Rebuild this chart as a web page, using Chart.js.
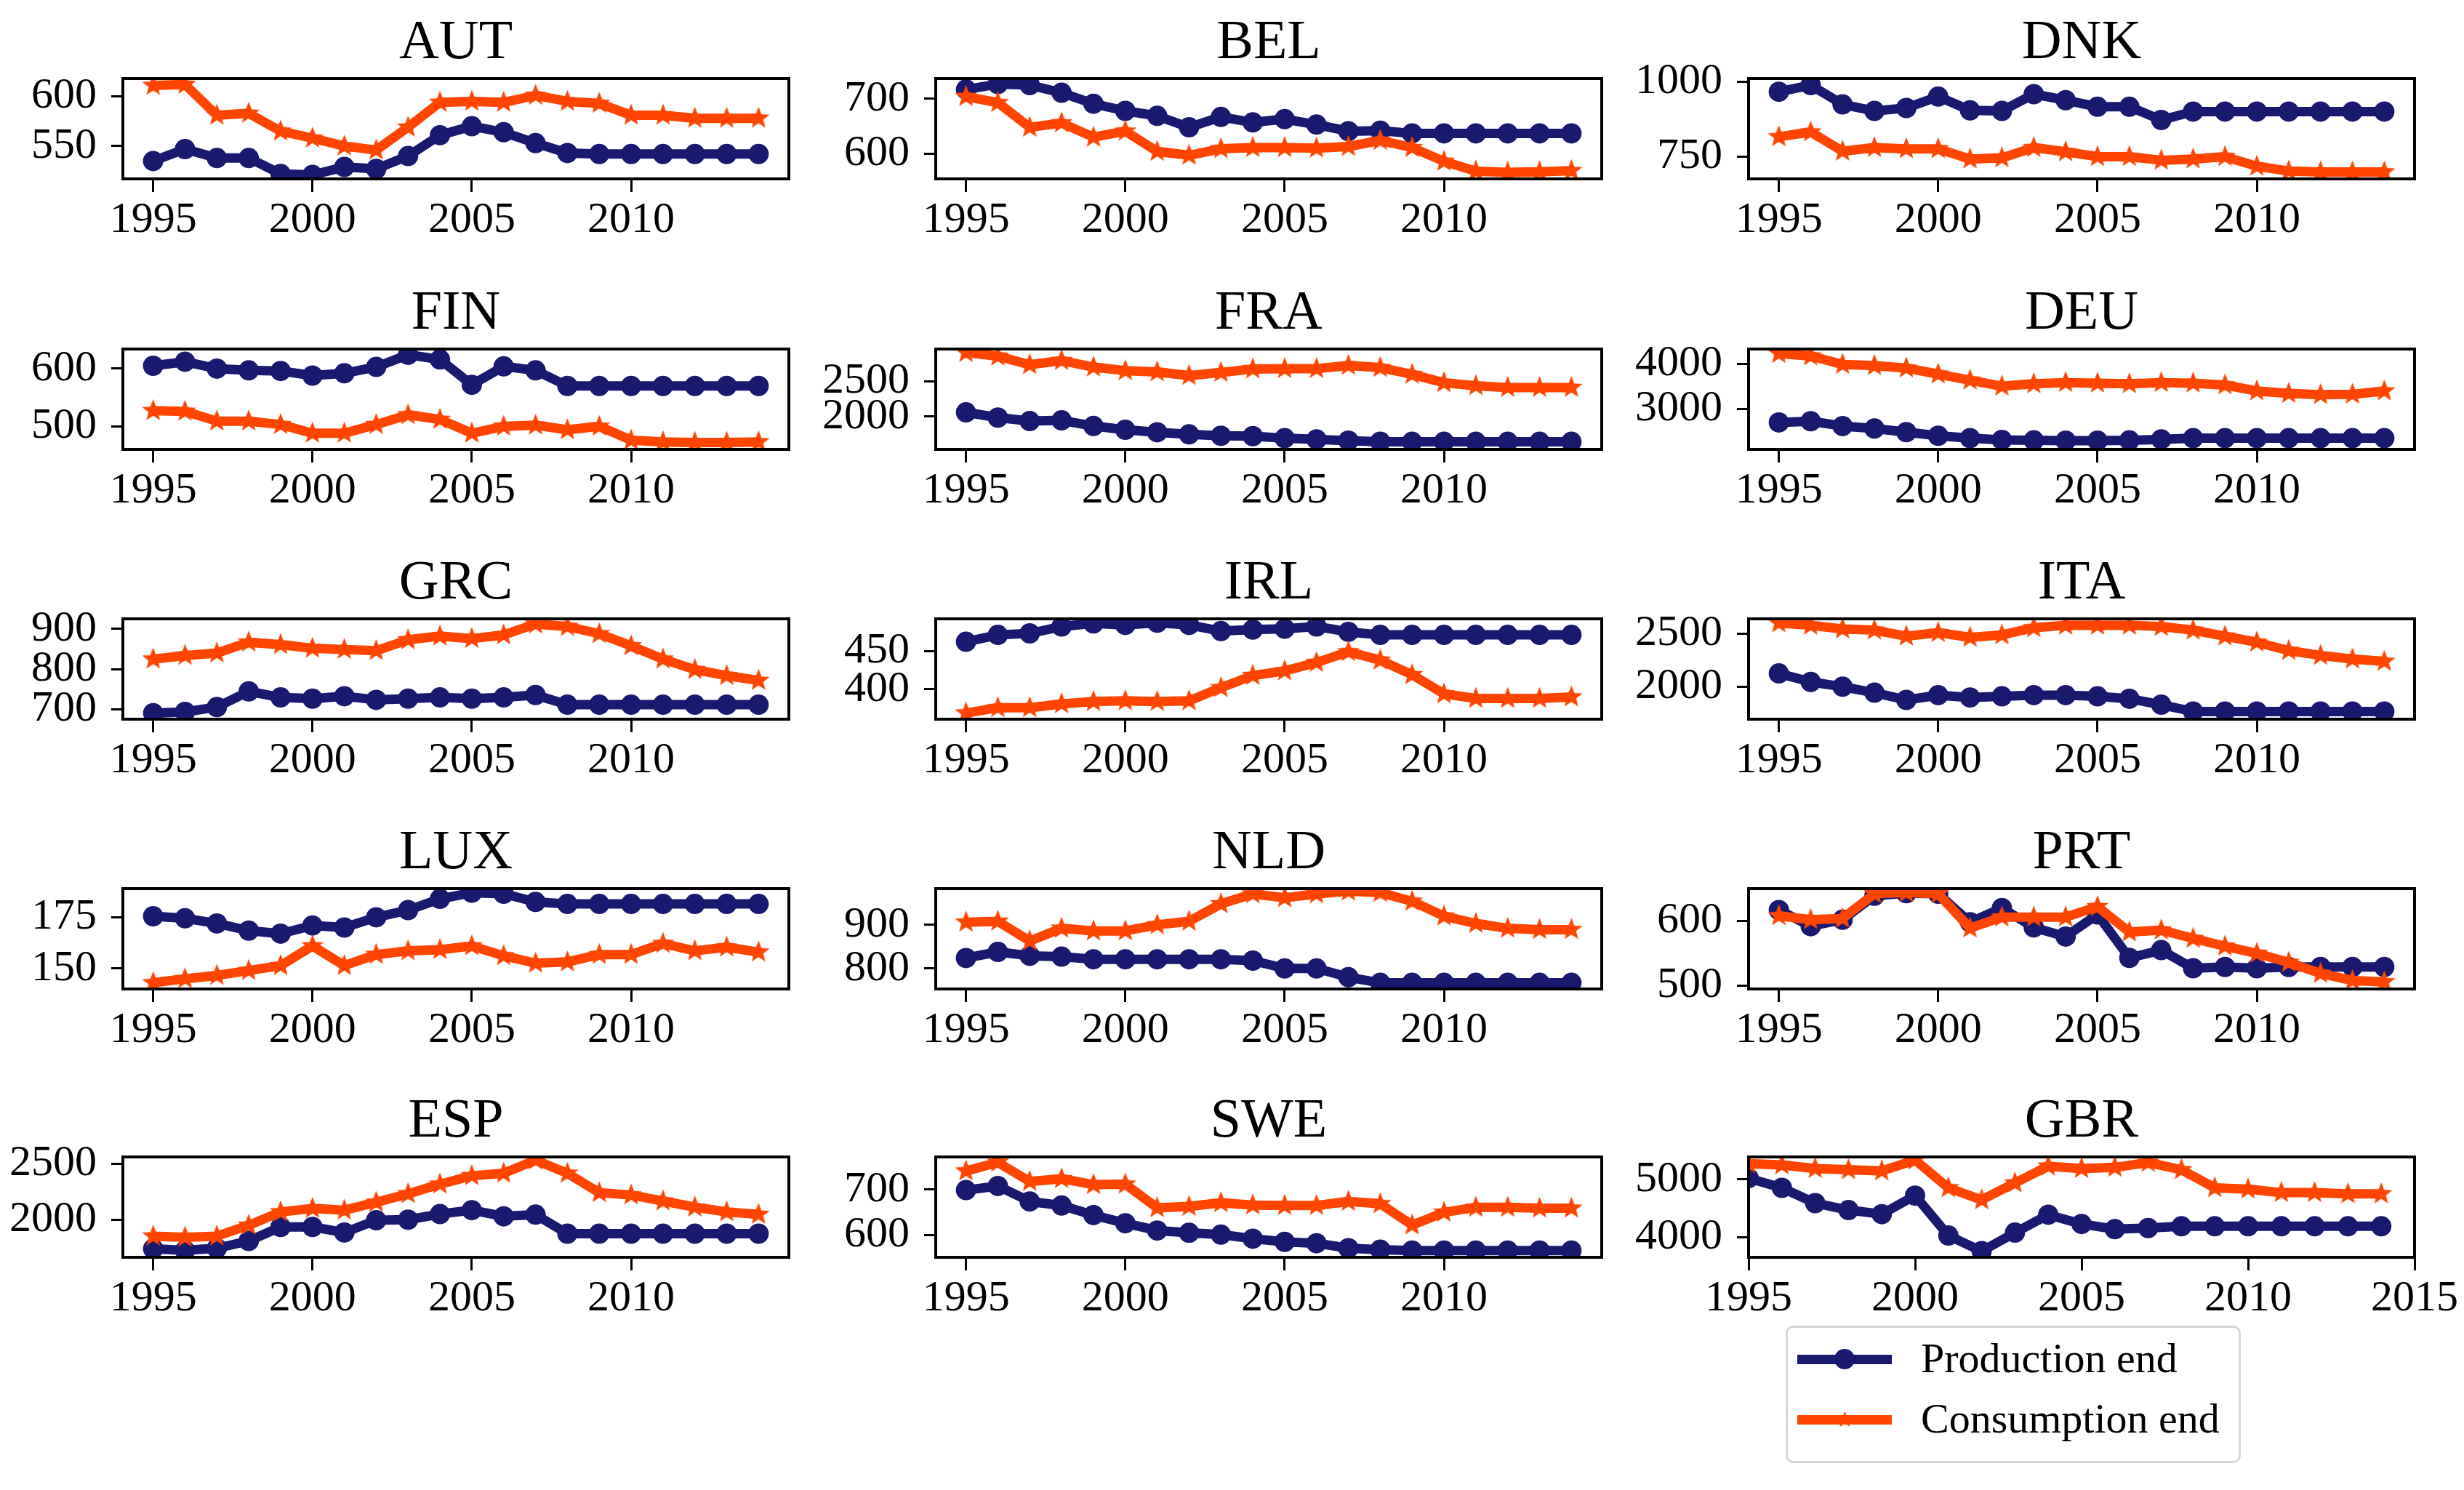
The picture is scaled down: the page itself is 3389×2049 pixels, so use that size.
<!DOCTYPE html>
<html>
<head>
<meta charset="utf-8">
<script src="https://cdn.jsdelivr.net/npm/chart.js@4.4.0/dist/chart.umd.min.js"></script>
<style>
body{margin:0;background:#fff}
#page{position:relative;width:3389px;height:2049px;overflow:hidden;background:#fff}
.panel{position:absolute}
#legend{position:absolute;left:2456px;top:1823px;width:620px;height:183px;border:3px solid #d6d6d6;border-radius:10px;background:#fff;font-family:"Liberation Serif",serif;font-size:58px;color:#000}
.item{position:absolute;left:13px;height:80px;width:600px}
.sample{position:absolute;left:0;top:33px;width:130px;height:13px}
.dot{position:absolute;left:51px;top:25px;width:28px;height:28px;border-radius:50%;background:#191970}
.star{position:absolute;left:52px;top:15px;font-size:30px;color:#ff4500;line-height:48px}
.label{position:absolute;left:170px;top:2px;line-height:72px}
</style>
</head>
<body>
<div id="page">
<div id="legend">
<div class="item" style="top:4px"><div class="sample" style="background:#191970"></div><div class="dot"></div><div class="label">Production end</div></div>
<div class="item" style="top:87px"><div class="sample" style="background:#ff4500"></div><div class="star">★</div><div class="label">Consumption end</div></div>
</div>
</div>
<script>
const years = [1995,1996,1997,1998,1999,2000,2001,2002,2003,2004,2005,2006,2007,2008,2009,2010,2011,2012,2013,2014]

// Production end / Consumption end per country

const prodAUT = [535,547,538,538,522,521,529,527,540,561,570,564,553,543,542,542,542,542,542,542]
const consAUT = [611,612,581,583,565,558,550,546,569,594,595,594,601,595,593,581,581,578,578,578]

const prodBEL = [717,727,725,711,691,678,669,648,667,657,663,653,641,642,637,637,637,637,637,637]
const consBEL = [704,693,648,656,630,641,604,597,609,611,611,610,613,624,611,586,568,566,567,569]

const prodDNK = [966,988,924,902,912,950,904,902,958,938,916,916,872,900,900,900,900,900,900,900]
const consDNK = [816,832,768,780,776,776,742,746,780,766,750,750,738,742,750,718,702,699,699,699]

const prodFIN = [605,612,600,597,596,588,592,603,624,616,572,604,597,570,570,570,570,570,570,570]
const consFIN = [527,526,509,509,503,488,488,503,520,512,488,500,502,494,500,476,473,472,472,473]

const prodFRA = [2060,1985,1935,1945,1865,1810,1775,1745,1725,1720,1690,1672,1655,1640,1638,1638,1638,1638,1638,1638]
const consFRA = [2914,2862,2741,2800,2707,2655,2638,2586,2630,2680,2685,2685,2730,2700,2603,2483,2440,2415,2415,2415]

const prodDEU = [2706,2733,2626,2572,2492,2412,2358,2320,2310,2305,2305,2310,2332,2358,2358,2358,2358,2358,2358,2358]
const consDEU = [4230,4176,3989,3963,3909,3775,3642,3508,3561,3588,3575,3561,3588,3575,3535,3401,3348,3321,3330,3401]

const prodGRC = [691,694,706,745,730,727,733,724,727,730,727,730,736,712,712,712,712,712,712,712]
const consGRC = [825,834,840,867,861,852,849,846,873,882,876,885,912,906,888,858,825,799,784,772]

const prodIRL = [462,471,473,482,486,484,487,484,476,478,479,482,475,471,471,471,471,471,471,471]
const consIRL = [369,376,376,381,384,385,384,385,402,418,424,435,449,438,419,394,388,388,388,390]

const prodITA = [2125,2045,2000,1943,1875,1920,1898,1909,1920,1920,1909,1886,1830,1765,1765,1765,1765,1765,1765,1765]
const consITA = [2602,2580,2545,2534,2477,2511,2466,2489,2557,2580,2580,2580,2568,2534,2477,2420,2341,2295,2261,2239]

const prodLUX = [175.5,174.5,172,168.5,167,171,170,175,178.5,184,187,186.5,182.5,181.5,181.5,181.5,181.5,181.5,181.5,181.5]
const consLUX = [143,145,146.6,149,151.4,161,151.4,156.8,158.6,159.2,161,156.2,152.6,153.2,156.8,156.8,162.2,158.6,160.4,158]

const prodNLD = [824,838,829,827,821,821,821,821,821,818,800,800,780,767,767,767,767,767,767,767]
const consNLD = [906,908,863,892,886,886,900,908,948,971,962,971,977,974,954,920,903,892,889,889]

const prodPRT = [617,592,602,639,643,642,598,620,590,576,610,543,555,527,529,527,529,529,529,529]
const consPRT = [608,602,604,642,644,642,589,606,606,606,622,583,586,573,561,550,536,519,508,506]

const prodESP = [1740,1725,1745,1810,1935,1935,1885,1995,2000,2050,2085,2030,2045,1875,1875,1875,1875,1875,1875,1875]
const consESP = [1853,1843,1853,1950,2069,2100,2085,2155,2231,2317,2392,2414,2532,2414,2241,2220,2166,2112,2069,2047]

const prodSWE = [699,708,674,665,644,626,610,605,601,592,585,582,571,568,566,566,566,566,566,566]
const consSWE = [741,760,718,724,711,712,660,663,671,666,665,665,674,669,622,650,661,661,659,659]

const prodGBR = [5021,4854,4590,4470,4400,4720,4030,3760,4080,4390,4230,4140,4160,4190,4190,4190,4190,4190,4190,4190]
const consGBR = [5271,5250,5188,5167,5146,5333,4854,4646,4938,5229,5188,5208,5292,5167,4854,4833,4771,4771,4750,4750]

// tick labels

const xTicks = [1995,2000,2005,2010]
const xTicksGBR = [1995,2000,2005,2010,2015]

const panels = [
{name:"AUT",prod:prodAUT,cons:consAUT,yTicks:[550,600],yMin:517,yMax:618},
{name:"BEL",prod:prodBEL,cons:consBEL,yTicks:[600,700],yMin:554,yMax:737},
{name:"DNK",prod:prodDNK,cons:consDNK,yTicks:[750,1000],yMin:676,yMax:1010},
{name:"FIN",prod:prodFIN,cons:consFIN,yTicks:[500,600],yMin:460,yMax:634},
{name:"FRA",prod:prodFRA,cons:consFRA,yTicks:[2000,2500],yMin:1530,yMax:2965},
{name:"DEU",prod:prodDEU,cons:consDEU,yTicks:[3000,4000],yMin:2110,yMax:4330},
{name:"GRC",prod:prodGRC,cons:consGRC,yTicks:[700,800,900],yMin:676,yMax:925},
{name:"IRL",prod:prodIRL,cons:consIRL,yTicks:[400,450],yMin:361,yMax:492},
{name:"ITA",prod:prodITA,cons:consITA,yTicks:[2000,2500],yMin:1693,yMax:2641},
{name:"LUX",prod:prodLUX,cons:consLUX,yTicks:[150,175],yMin:140,yMax:189},
{name:"NLD",prod:prodNLD,cons:consNLD,yTicks:[800,900],yMin:753,yMax:983},
{name:"PRT",prod:prodPRT,cons:consPRT,yTicks:[500,600],yMin:495,yMax:650},
{name:"ESP",prod:prodESP,cons:consESP,yTicks:[2000,2500],yMin:1664,yMax:2560},
{name:"SWE",prod:prodSWE,cons:consSWE,yTicks:[600,700],yMin:551,yMax:772},
{name:"GBR",prod:prodGBR,cons:consGBR,yTicks:[4000,5000],yMin:3654,yMax:5388}
]

// layout of the 5x3 grid (plot area positions)

const colLeft = [169,1287,2405]
const rowTop = [108,480,851,1222,1591]
const plotW = 916
const plotH = 138
const yAxisW = 160
const titleH = 108
const xAxisH = 100

const BLUE = "#191970"
const ORANGE = "#ff4500"
const FONT = "'Liberation Serif', 'Times New Roman', serif"

Chart.defaults.font.family = FONT
Chart.defaults.color = "#000"

// filled star marker like matplotlib "*"

function makeStar(r,color){
const c = document.createElement("canvas")
c.width = c.height = 2*r+2
const g = c.getContext("2d")
g.fillStyle = color
g.beginPath()
for(let i=0;i<10;i++){
const a = -Math.PI/2 + i*Math.PI/5
const rr = i%2 ? r*0.42 : r
g.lineTo(r+1+rr*Math.cos(a), r+1+rr*Math.sin(a))
}
g.closePath()
g.fill()
return c
}

const starImg = makeStar(16,ORANGE)

// box around each plot area

const framePlugin = {
id:"frame",
afterDatasetsDraw(chart){
const {ctx,chartArea:a} = chart
ctx.save()
ctx.strokeStyle = "#000"
ctx.lineWidth = 4
ctx.strokeRect(a.left,a.top,a.right-a.left,a.bottom-a.top)
ctx.restore()
}
}

// panel title centred over the plot area (like matplotlib set_title)

const panelTitle = {
id:"panelTitle",
afterDraw(chart,args,opts){
const {ctx,chartArea:a} = chart
ctx.save()
ctx.fillStyle = "#000"
ctx.font = "76px " + FONT
ctx.textAlign = "center"
ctx.textBaseline = "middle"
ctx.fillText(opts.text,(a.left+a.right)/2,a.top-48)
ctx.restore()
}
}

const page = document.getElementById("page")

panels.forEach((p,i)=>{

const row = Math.floor(i/3)
const col = i%3
const isGBR = p.name === "GBR"
const padRight = isGBR ? 70 : 40

const div = document.createElement("div")
div.className = "panel"
div.style.left = (colLeft[col]-yAxisW)+"px"
div.style.top = (rowTop[row]-titleH)+"px"
const canvas = document.createElement("canvas")
canvas.width = yAxisW+plotW+padRight
canvas.height = titleH+plotH+xAxisH
div.appendChild(canvas)
page.insertBefore(div,document.getElementById("legend"))

const tickVals = isGBR ? xTicksGBR : xTicks

new Chart(canvas.getContext("2d"),{

type:"line",

data:{
labels:years,
datasets:[
{
label:"Consumption end",
data:p.cons.map((v,k)=>({x:years[k],y:v})),
borderColor:ORANGE,
backgroundColor:ORANGE,
borderWidth:13,
borderJoinStyle:"round",
pointStyle:starImg,
pointRadius:16,
order:0
},
{
label:"Production end",
data:p.prod.map((v,k)=>({x:years[k],y:v})),
borderColor:BLUE,
backgroundColor:BLUE,
borderWidth:13,
borderJoinStyle:"round",
pointStyle:"circle",
pointRadius:14,
pointBorderWidth:0,
order:1
}
]
},

options:{
responsive:false,
animation:false,
devicePixelRatio:1,
layout:{padding:{left:0,right:padRight,top:titleH,bottom:0},autoPadding:false},
plugins:{
legend:{display:false},
tooltip:{enabled:false},
title:{display:false},
panelTitle:{text:p.name}
},
scales:{
x:{
type:"linear",
min:isGBR ? 1995 : 1994.05,
max:isGBR ? 2015 : 2014.95,
afterBuildTicks:axis=>{axis.ticks = tickVals.map(v=>({value:v}))},
afterFit:axis=>{axis.height = xAxisH},
ticks:{font:{size:60},color:"#000",padding:3,maxRotation:0,autoSkip:false,callback:v=>String(v)},
grid:{drawOnChartArea:false,color:"#000",lineWidth:3,tickLength:18},
border:{display:false}
},
y:{
min:p.yMin,
max:p.yMax,
afterBuildTicks:axis=>{axis.ticks = p.yTicks.map(v=>({value:v}))},
afterFit:axis=>{axis.width = yAxisW},
ticks:{font:{size:60},color:"#000",padding:20,autoSkip:false,callback:v=>String(v)},
grid:{drawOnChartArea:false,color:"#000",lineWidth:3,tickLength:16},
border:{display:false}
}
}
},

plugins:[framePlugin,panelTitle]

})

})
</script>
</body>
</html>
